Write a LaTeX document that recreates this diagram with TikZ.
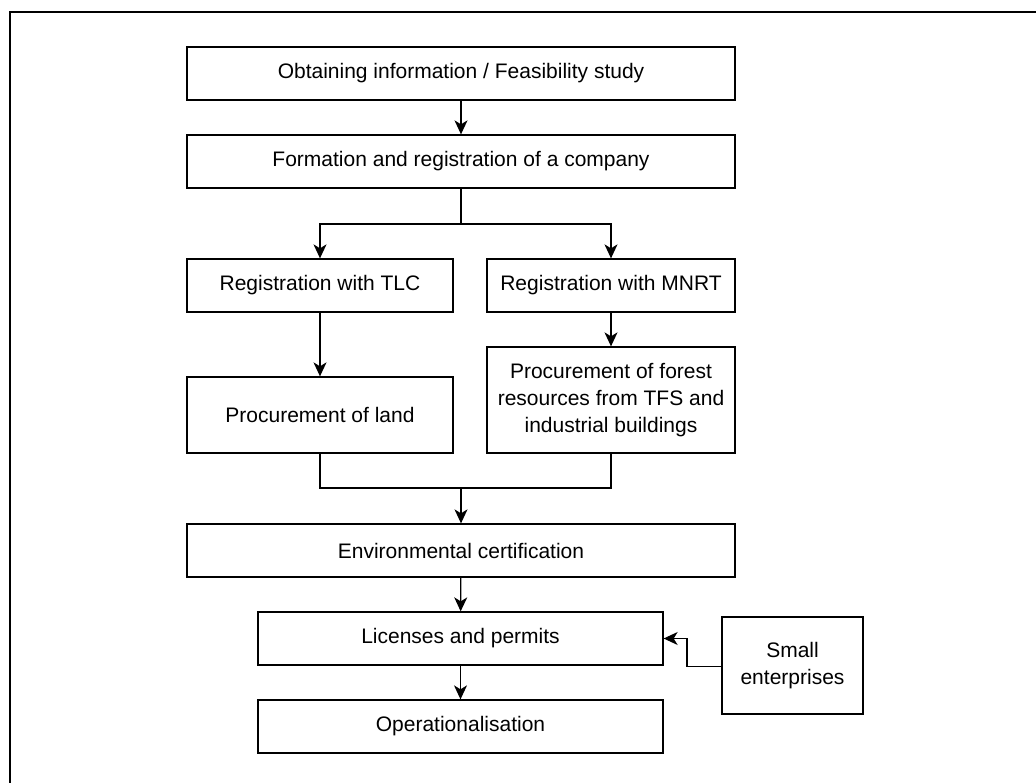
\documentclass[tikz,border=0pt]{standalone}
\usepackage{fontspec}
\setmainfont{Liberation Sans}
\usetikzlibrary{arrows.meta}

\tikzset{
	box/.style = {draw, line width = 1.3pt, inner sep = 0pt, align = center,
		font = \fontsize{21}{27}\selectfont},
	wide/.style = {box, minimum width = 548pt, minimum height = 53pt},
	half/.style = {box, minimum width = 266pt},
	link/.style = {line width = 1.3pt, -{Stealth[length = 14pt, width = 13pt, inset = 4pt]}}
}

\begin{document}
\begin{tikzpicture}[x = 1pt, y = -1pt]
	\useasboundingbox (0,0) rectangle (1036,783);
	\draw[line width = 2.4pt] (10,783)--(10,12)--(1036,12);
	% boxes
	\node[wide] (info) at (461,73.5) {Obtaining information / Feasibility study};
	\node[wide] (firm) at (461,161.5) {Formation and registration of a company};
	\node[half, minimum height = 53pt] (tlc) at (320,285.5) {Registration with TLC};
	\node[box, minimum width = 248pt, minimum height = 53pt] (mnrt) at (611,285.5) {Registration with MNRT};
	\node[half, minimum height = 76pt] (land) at (320,415) {Procurement of land};
	\node[box, minimum width = 248pt, minimum height = 106pt] (forest) at (611,400)
		{Procurement of forest\\ resources from TFS and\\ industrial buildings};
	\node[wide] (env) at (461,550.5) {Environmental certification};
	\node[box, minimum width = 405pt, minimum height = 53pt] (lic) at (460.5,638.5) {Licenses and permits};
	\node[box, minimum width = 405pt, minimum height = 53pt] (ops) at (460.5,726.5) {Operationalisation};
	\node[box, minimum width = 141pt, minimum height = 97pt] (small) at (792.5,665.5) {Small\\ enterprises};
	% connectors
	\coordinate (split) at (461,224);
	\coordinate (merge) at (461,488);
	\coordinate (bend) at (687,666.5);
	\draw[link] (info) -- (firm);
	\draw[line width = 1.3pt] (firm) -- (split);
	\draw[link] (split) -| (tlc);
	\draw[link] (split) -| (mnrt);
	\draw[link] (tlc) -- (land);
	\draw[link] (mnrt) -- (forest);
	\draw[line width = 1.3pt] (land.south) |- (merge) -| (forest.south);
	\draw[link] (merge) -- (env);
	\draw[link] (env) -- (lic);
	\draw[link] (lic) -- (ops);
	\draw[link] (small.west |- bend) -- (bend) |- (lic.east);
\end{tikzpicture}
\end{document}
